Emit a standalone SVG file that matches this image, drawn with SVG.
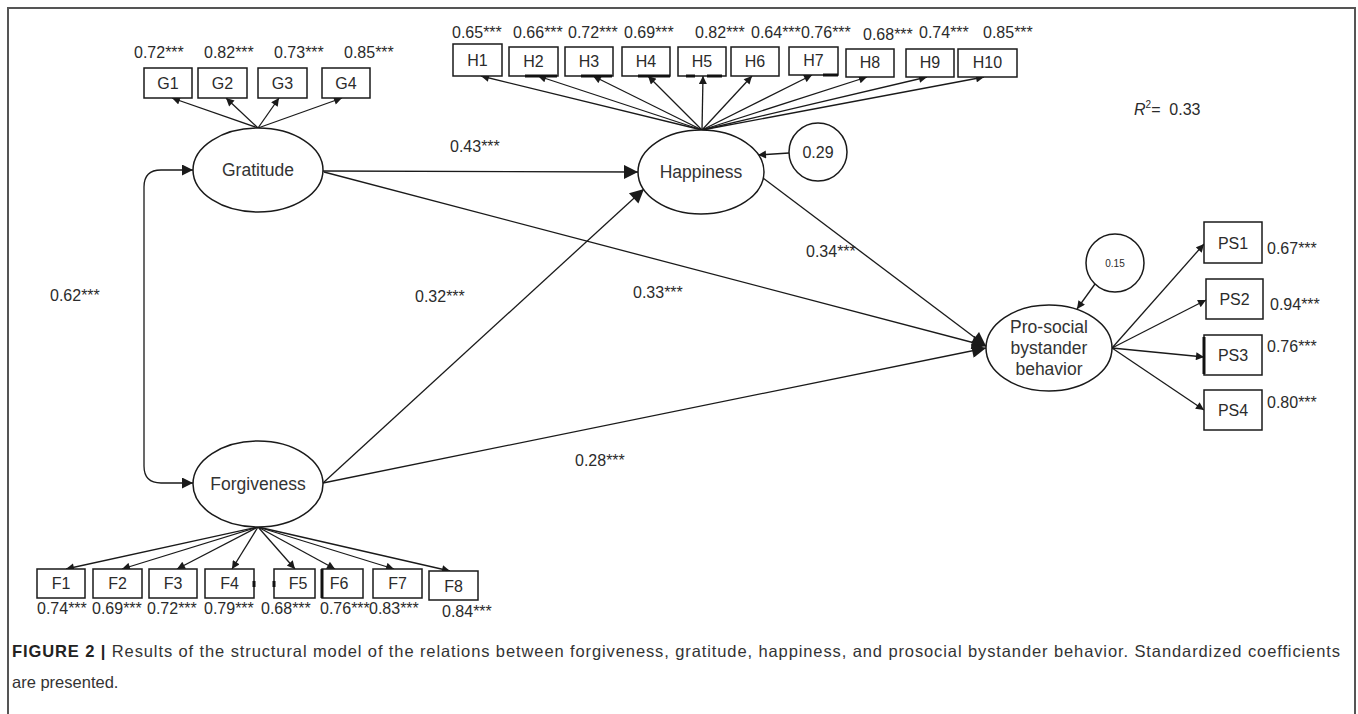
<svg xmlns="http://www.w3.org/2000/svg" width="1358" height="714" viewBox="0 0 1358 714">
<style>
.box{fill:#fff;stroke:#1a1a1a;stroke-width:1.5}
.ell{fill:#fff;stroke:#1a1a1a;stroke-width:1.5}
.t{font-family:"Liberation Sans",Arial,sans-serif;fill:#2b2b2b}
.num{font-size:16px}
.bx{font-size:16px;text-anchor:middle}
.nd{font-size:17.5px;text-anchor:middle;fill:#333}
.ln{stroke:#1a1a1a;stroke-width:1.3;fill:none}
.ind{marker-end:url(#ah)}
.str{marker-end:url(#AH)}
.thk{stroke:#111;stroke-width:3}
.cap{font-family:"Liberation Sans",Arial,sans-serif;font-size:16.5px;fill:#333}
</style>
<defs>
<marker id="ah" viewBox="0 0 10 10" refX="10" refY="5" markerWidth="9" markerHeight="8" markerUnits="userSpaceOnUse" orient="auto"><path d="M0,0 L10,5 L0,10 z" fill="#1a1a1a"/></marker>
<marker id="AH" viewBox="0 0 10 10" refX="10" refY="5" markerWidth="17" markerHeight="14" markerUnits="userSpaceOnUse" orient="auto"><path d="M0,0 L10,5 L0,10 z" fill="#1a1a1a"/></marker>
<marker id="AHm" viewBox="0 0 10 10" refX="10" refY="5" markerWidth="13" markerHeight="11" markerUnits="userSpaceOnUse" orient="auto-start-reverse"><path d="M0,0 L10,5 L0,10 z" fill="#1a1a1a"/></marker>
</defs>
<rect width="1358" height="714" fill="#fff"/>
<path d="M8,714 V8 H1355 V714" fill="none" stroke="#555" stroke-width="2"/>

<g id="connectors">
<path class="ln ind" d="M258,128 L172,98"/>
<path class="ln ind" d="M258,128 L226,98"/>
<path class="ln ind" d="M258,128 L279,98"/>
<path class="ln ind" d="M258,128 L342,98"/>
<path class="ln ind" d="M702,130 L481,76"/>
<path class="ln ind" d="M702,130 L538,76"/>
<path class="ln ind" d="M702,130 L593,76"/>
<path class="ln ind" d="M702,130 L648,76"/>
<path class="ln ind" d="M702,130 L703,76"/>
<path class="ln ind" d="M702,130 L752,76"/>
<path class="ln ind" d="M702,130 L812,75"/>
<path class="ln ind" d="M702,130 L867,77"/>
<path class="ln ind" d="M702,130 L927,77"/>
<path class="ln ind" d="M702,130 L984,77"/>
<path class="ln ind" d="M258,527 L66,569"/>
<path class="ln ind" d="M258,527 L122,569"/>
<path class="ln ind" d="M258,527 L177,569"/>
<path class="ln ind" d="M258,527 L232,569"/>
<path class="ln ind" d="M258,527 L295,569"/>
<path class="ln ind" d="M258,527 L335,569"/>
<path class="ln ind" d="M258,527 L394,569"/>
<path class="ln ind" d="M258,527 L450,571"/>
<path class="ln ind" d="M1112,348 L1204,244"/>
<path class="ln ind" d="M1112,348 L1206,300"/>
<path class="ln ind" d="M1112,348 L1204,357"/>
<path class="ln ind" d="M1112,348 L1204,410"/>
<path class="ln str" d="M323,171 L638,172"/>
<path class="ln str" d="M324,172 L986,346"/>
<path class="ln str" d="M323,483 L644,189"/>
<path class="ln str" d="M323,483 L986,348"/>
<path class="ln str" d="M763,178 L986,346"/>
<path class="ln" d="M193,170 H161 Q144,170 144,187 V466 Q144,483 161,483 H193" marker-start="url(#AHm)" marker-end="url(#AHm)" stroke-width="1.6"/>
<path class="ln ind" d="M789,153 L758,155"/>
<path class="ln ind" d="M1095,284 L1077,309"/>
</g>

<g id="path-labels" class="t num">
<text x="450" y="152">0.43***</text>
<text x="415" y="302">0.32***</text>
<text x="633" y="298">0.33***</text>
<text x="806" y="257">0.34***</text>
<text x="575" y="466">0.28***</text>
<text x="50" y="301">0.62***</text>
</g>

<g id="gratitude">
<ellipse class="ell" cx="258" cy="170" rx="65" ry="42"/>
<text class="t nd" x="258" y="176">Gratitude</text>
</g>
<g id="forgiveness">
<ellipse class="ell" cx="258" cy="484" rx="65" ry="43"/>
<text class="t nd" x="258" y="490">Forgiveness</text>
</g>
<g id="happiness">
<ellipse class="ell" cx="701" cy="172" rx="63" ry="42"/>
<text class="t nd" x="701" y="178">Happiness</text>
</g>
<g id="prosocial">
<ellipse class="ell" cx="1049" cy="348" rx="63" ry="43"/>
<text class="t nd" x="1049" y="333">Pro-social</text>
<text class="t nd" x="1049" y="354">bystander</text>
<text class="t nd" x="1049" y="375">behavior</text>
</g>
<g id="res-happiness">
<circle class="ell" cx="818" cy="152" r="29"/>
<text class="t num" x="818" y="158" text-anchor="middle">0.29</text>
</g>
<g id="res-prosocial">
<circle class="ell" cx="1115" cy="263" r="29"/>
<text class="t" x="1115" y="267" font-size="10" text-anchor="middle">0.15</text>
</g>
<g id="r2">
<text class="t num" x="1134" y="115"><tspan font-style="italic">R</tspan><tspan font-size="10" dy="-7">2</tspan><tspan dy="7">= &#160;0.33</tspan></text>
</g>

<g id="G1"><rect class="box" x="144" y="68" width="48" height="30"/><text class="t bx" x="168" y="89">G1</text><text class="t num" x="134" y="58">0.72***</text></g>
<g id="G2"><rect class="box" x="198" y="68" width="49" height="30"/><text class="t bx" x="222.5" y="89">G2</text><text class="t num" x="204" y="58">0.82***</text></g>
<g id="G3"><rect class="box" x="258" y="68" width="49" height="30"/><text class="t bx" x="282.5" y="89">G3</text><text class="t num" x="274" y="58">0.73***</text></g>
<g id="G4"><rect class="box" x="322" y="68" width="48" height="30"/><text class="t bx" x="346" y="89">G4</text><text class="t num" x="344" y="58">0.85***</text></g>

<g id="H1"><rect class="box" x="453" y="44" width="49" height="32"/><text class="t bx" x="477.5" y="66">H1</text><text class="t num" x="452" y="38">0.65***</text></g>
<g id="H2"><rect class="box" x="509" y="47" width="49" height="29"/><line class="thk" x1="525" y1="76" x2="557" y2="76"/><text class="t bx" x="533.5" y="67">H2</text><text class="t num" x="513" y="38">0.66***</text></g>
<g id="H3"><rect class="box" x="565" y="47" width="48" height="29"/><line class="thk" x1="581" y1="76" x2="612" y2="76"/><text class="t bx" x="589" y="67">H3</text><text class="t num" x="568" y="38">0.72***</text></g>
<g id="H4"><rect class="box" x="622" y="47" width="48" height="29"/><line class="thk" x1="638" y1="76" x2="670" y2="76"/><text class="t bx" x="646" y="67">H4</text><text class="t num" x="624" y="38">0.69***</text></g>
<g id="H5"><rect class="box" x="678" y="47" width="48" height="29"/><line class="thk" x1="686" y1="76" x2="695" y2="76"/><line class="thk" x1="707" y1="76" x2="722" y2="76"/><text class="t bx" x="702" y="67">H5</text><text class="t num" x="695" y="38">0.82***</text></g>
<g id="H6"><rect class="box" x="731" y="47" width="48" height="29"/><text class="t bx" x="755" y="67">H6</text><text class="t num" x="751" y="38">0.64***</text></g>
<g id="H7"><rect class="box" x="789" y="47" width="49" height="28"/><line class="thk" x1="823" y1="75" x2="838" y2="75"/><text class="t bx" x="813.5" y="66">H7</text><text class="t num" x="801" y="38">0.76***</text></g>
<g id="H8"><rect class="box" x="846" y="49" width="48" height="28"/><text class="t bx" x="870" y="68">H8</text><text class="t num" x="863" y="40">0.68***</text></g>
<g id="H9"><rect class="box" x="906" y="49" width="48" height="28"/><text class="t bx" x="930" y="68">H9</text><text class="t num" x="919" y="38">0.74***</text></g>
<g id="H10"><rect class="box" x="958" y="49" width="59" height="28"/><text class="t bx" x="987.5" y="68">H10</text><text class="t num" x="983" y="38">0.85***</text></g>

<g id="F1"><rect class="box" x="37" y="569" width="48" height="29"/><text class="t bx" x="61" y="589">F1</text><text class="t num" x="37" y="614">0.74***</text></g>
<g id="F2"><rect class="box" x="93" y="569" width="49" height="29"/><text class="t bx" x="117.5" y="589">F2</text><text class="t num" x="92" y="614">0.69***</text></g>
<g id="F3"><rect class="box" x="149" y="569" width="48" height="29"/><text class="t bx" x="173" y="589">F3</text><text class="t num" x="147" y="614">0.72***</text></g>
<g id="F4"><rect class="box" x="205" y="569" width="49" height="29"/><line class="thk" x1="254" y1="581" x2="254" y2="587"/><text class="t bx" x="229.5" y="589">F4</text><text class="t num" x="204" y="614">0.79***</text></g>
<g id="F5"><rect class="box" x="274" y="569" width="41" height="29"/><line class="thk" x1="274" y1="581" x2="274" y2="587"/><text class="t bx" x="298" y="589">F5</text><text class="t num" x="261" y="614">0.68***</text></g>
<g id="F6"><rect class="box" x="322" y="569" width="41" height="29"/><line class="thk" x1="322" y1="569" x2="322" y2="598"/><text class="t bx" x="339" y="589">F6</text><text class="t num" x="320" y="614">0.76***</text></g>
<g id="F7"><rect class="box" x="373" y="569" width="49" height="29"/><text class="t bx" x="397.5" y="589">F7</text><text class="t num" x="369" y="614">0.83***</text></g>
<g id="F8"><rect class="box" x="429" y="571" width="49" height="29"/><text class="t bx" x="453.5" y="592">F8</text><text class="t num" x="442" y="617">0.84***</text></g>

<g id="PS1"><rect class="box" x="1204" y="222" width="58" height="41"/><text class="t bx" x="1233" y="249">PS1</text><text class="t num" x="1267" y="254">0.67***</text></g>
<g id="PS2"><rect class="box" x="1206" y="279" width="57" height="40"/><text class="t bx" x="1234.5" y="305">PS2</text><text class="t num" x="1270" y="310">0.94***</text></g>
<g id="PS3"><rect class="box" x="1204" y="335" width="58" height="40"/><line class="thk" x1="1204" y1="337" x2="1204" y2="374"/><text class="t bx" x="1233" y="361">PS3</text><text class="t num" x="1267" y="352">0.76***</text></g>
<g id="PS4"><rect class="box" x="1204" y="390" width="58" height="40"/><text class="t bx" x="1233" y="416">PS4</text><text class="t num" x="1267" y="408">0.80***</text></g>

<g id="caption">
<text class="cap" x="12" y="657" textLength="1328" lengthAdjust="spacing"><tspan font-weight="bold" fill="#222">FIGURE 2 | </tspan>Results of the structural model of the relations between forgiveness, gratitude, happiness, and prosocial bystander behavior. Standardized coefficients</text>
<text class="cap" x="12" y="688">are presented.</text>
</g>
</svg>
